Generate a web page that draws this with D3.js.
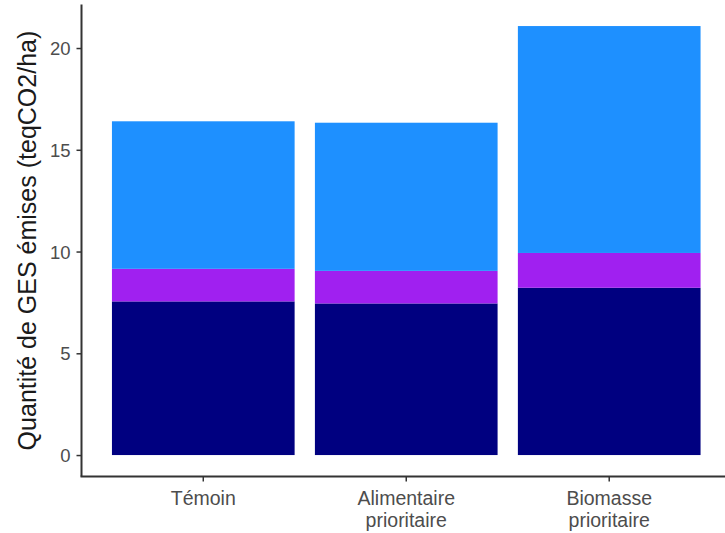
<!DOCTYPE html>
<html>
<head>
<meta charset="utf-8">
<script src="https://cdn.jsdelivr.net/npm/d3@7"></script>
<style>
  html, body { margin: 0; padding: 0; background: #fff; }
  svg { display: block; }
</style>
</head>
<body>
<svg id="chart" width="725" height="533"></svg>
<script>
const categories = ["Témoin", "Alimentaire\nprioritaire", "Biomasse\nprioritaire"];
const seriesKeys = ["bas", "milieu", "haut"];
const seriesColors = ["#000080", "#A020F0", "#1E90FF"];
const valuesBas = [7.55, 7.45, 8.22];
const valuesMilieu = [1.60, 1.60, 1.71];
const valuesHaut = [7.25, 7.28, 11.15];
const yTicks = [0, 5, 10, 15, 20];
const yTitle = "Quantité de GES émises (teqCO2/ha)";

const svg = d3.select("#chart");
const W = 725, H = 533;
const panel = { left: 81.5, right: 731, top: 4.6, bottom: 476.5 };
const font = "'Liberation Sans', Arial, sans-serif";

const rows = categories.map((c, i) => ({ cat: c, bas: valuesBas[i], milieu: valuesMilieu[i], haut: valuesHaut[i] }));
const stack = d3.stack().keys(seriesKeys)(rows);
const maxTotal = d3.max(rows, r => r.bas + r.milieu + r.haut);
const pad = maxTotal * 0.05;

const y = d3.scaleLinear().domain([-pad, maxTotal + pad]).range([panel.bottom, panel.top]);
// emulate ggplot: discrete expand 0.6, width 0.9
const n = categories.length;
const unit = (panel.right - panel.left) / (n - 1 + 1.2);
const cx = d3.scaleLinear().domain([0, n - 1]).range([panel.left + 0.6 * unit, panel.right - 0.6 * unit]);
const bw = 0.9 * unit;

const g = svg.append("g");
stack.forEach((layer, li) => {
  g.selectAll(null).data(layer).enter().append("rect")
    .attr("x", (d, i) => cx(i) - bw / 2)
    .attr("width", bw)
    .attr("y", d => y(d[1]))
    .attr("height", d => y(d[0]) - y(d[1]))
    .attr("fill", seriesColors[li]);
});

// Y axis
const yAxis = d3.axisLeft(y).tickValues(yTicks).tickSize(5).tickPadding(6);
const ya = svg.append("g").attr("transform", `translate(${panel.left},0)`).call(yAxis);
ya.select(".domain").attr("d", `M0,${panel.top}V${panel.bottom}`).attr("stroke", "#333").attr("stroke-width", 2);
ya.selectAll(".tick line").attr("stroke", "#333").attr("stroke-width", 1.5);
ya.selectAll(".tick text").attr("fill", "#4d4d4d").attr("dy", "0.36em").style("font-family", font).style("font-size", "18.5px");

// X axis
const xa = svg.append("g").attr("transform", `translate(0,${panel.bottom})`);
xa.append("line").attr("x1", panel.left - 1).attr("x2", W).attr("y1", 0).attr("y2", 0).attr("stroke", "#333").attr("stroke-width", 2);
categories.forEach((c, i) => {
  xa.append("line").attr("x1", cx(i)).attr("x2", cx(i)).attr("y1", 0).attr("y2", 5).attr("stroke", "#333").attr("stroke-width", 1.5);
  const t = xa.append("text").attr("text-anchor", "middle").attr("fill", "#4d4d4d")
    .style("font-family", font).style("font-size", "19.5px");
  c.split("\n").forEach((line, li) => {
    t.append("tspan").attr("x", cx(i)).attr("y", 28.5 + li * 22).text(line);
  });
});

// Y title
svg.append("text")
  .attr("transform", `translate(36,${(panel.top + panel.bottom) / 2}) rotate(-90)`)
  .attr("text-anchor", "middle")
  .attr("fill", "#1a1a1a")
  .style("font-family", font)
  .style("font-size", "25px")
  .text(yTitle);
</script>
</body>
</html>
